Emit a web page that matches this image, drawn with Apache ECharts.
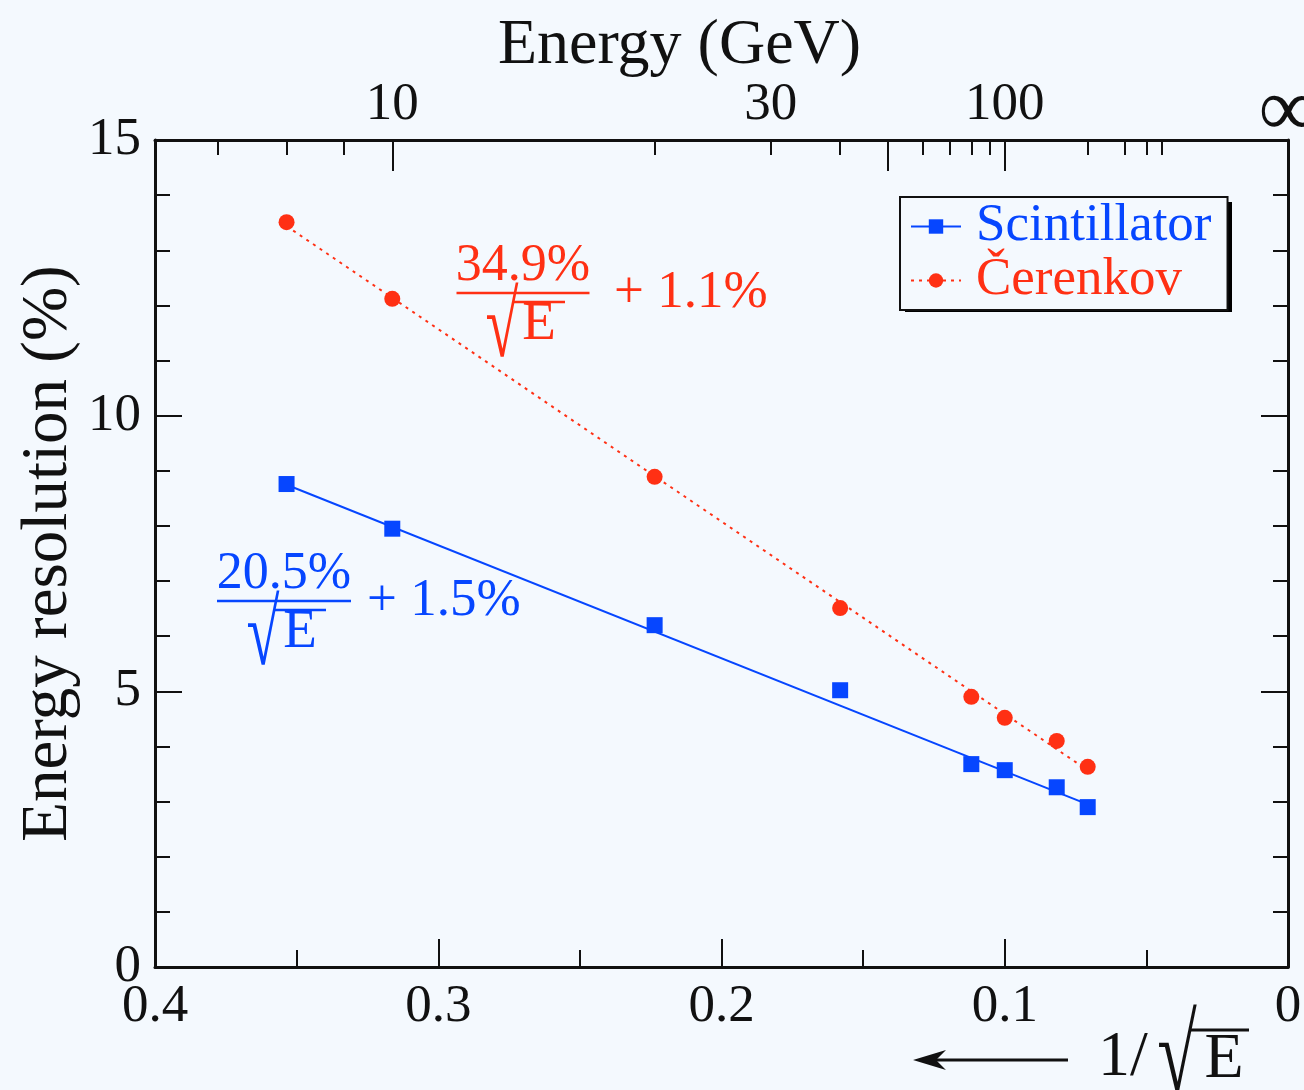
<!DOCTYPE html>
<html>
<head>
<meta charset="utf-8">
<script src="https://cdn.jsdelivr.net/npm/echarts@6/dist/echarts.min.js"></script>
<style>
  html, body { margin: 0; padding: 0; background: #f4f9fe; }
  #chart { width: 1304px; height: 1090px; }
</style>
</head>
<body>
<div id="chart"></div>
<script>
// Beam energies (GeV) of the measurements
const energies = [8, 10, 20, 40, 80, 100, 150, 200];
// Energy resolution (%) for the two readouts
const scintRes = [8.76, 7.95, 6.20, 5.02, 3.68, 3.57, 3.26, 2.90];
const cerenRes = [13.51, 12.12, 8.89, 6.51, 4.90, 4.52, 4.10, 3.63];
// Fit parameters: [stochastic term %, constant term %]
const scintFit = [20.5, 1.5];
const cerenFit = [34.9, 1.1];
// Energy scale (GeV) drawn along the top edge
const topLabelEnergies = [10, 30, 100, Infinity];
const topMajorEnergies = [10, 50, 100];
const topMinorEnergies = [7, 8, 9, 20, 30, 40, 60, 70, 80, 90, 200, 300, 400, 500];

const BLUE = '#0646ff';
const RED = '#ff3014';
const INK = '#111';
const BG = '#f4f9fe';
const SERIF = 'Liberation Serif';

const invSqrt = E => (E === Infinity ? 0 : 1 / Math.sqrt(E));

const scintPoints = energies.map((E, i) => [invSqrt(E), scintRes[i]]);
const cerenPoints = energies.map((E, i) => [invSqrt(E), cerenRes[i]]);

// straight fit line across the measured range
function fitLine(fit) {
  const xs = [invSqrt(energies[0]), invSqrt(energies[energies.length - 1])];
  return xs.map(x => [x, fit[0] * x + fit[1]]);
}

const chart = echarts.init(document.getElementById('chart'), null, { renderer: 'canvas' });

const mkAxisLine = () => ({ show: true, onZero: false, lineStyle: { color: INK, width: 3 } });
const tickStyle = () => ({ color: INK, width: 2 });

// "a% / sqrt(E) + b%" label; cx = centre of the fraction bar, barY = its height
function fracLabel(num, plus, color, cx, barY, barW, plusX) {
  const half = barW / 2;
  const font = px => px + 'px "' + SERIF + '"';
  return [
    { type: 'text', x: cx, y: barY - 27,
      style: { text: num, align: 'center', verticalAlign: 'middle', font: font(52), fill: color } },
    { type: 'line', shape: { x1: cx - half, y1: barY, x2: cx + half, y2: barY },
      style: { stroke: color, lineWidth: 2.5 } },
    { type: 'text', x: cx - 21, y: barY + 39, scaleY: 1.55,
      style: { text: '√', align: 'center', verticalAlign: 'middle', font: font(60), fill: color } },
    { type: 'line', shape: { x1: cx - 10, y1: barY + 9, x2: cx + 42, y2: barY + 9 },
      style: { stroke: color, lineWidth: 2.5 } },
    { type: 'text', x: cx + 16, y: barY + 32,
      style: { text: 'E', align: 'center', verticalAlign: 'middle', font: font(55), fill: color } },
    { type: 'text', x: plusX, y: barY,
      style: { text: plus, align: 'left', verticalAlign: 'middle', font: font(53), fill: color } }
  ];
}

const option = {
  backgroundColor: BG,
  animation: false,
  grid: { left: 155, right: 16, top: 140, bottom: 123, containLabel: false, outerBoundsMode: 'none' },
  legend: {
    orient: 'vertical',
    left: 900, top: 197,
    itemWidth: 50, itemHeight: 18, itemGap: 1,
    padding: [3, 16, 3, 10],
    selectedMode: false,
    backgroundColor: BG,
    borderColor: INK, borderWidth: 2,
    textStyle: { fontFamily: SERIF, fontSize: 53, lineHeight: 53, padding: [0, 0, 0, 10] },
    data: [
      { name: 'Scintillator', textStyle: { color: BLUE, fontFamily: SERIF, fontSize: 53 } },
      { name: 'Čerenkov', textStyle: { color: RED, fontFamily: SERIF, fontSize: 53 } }
    ],
    z: 10
  },
  xAxis: [
    {
      type: 'value', position: 'bottom', min: 0, max: 0.4, interval: 0.1, inverse: true,
      axisLine: mkAxisLine(),
      axisTick: { inside: true, length: 28, lineStyle: tickStyle() },
      minorTick: { show: true, splitNumber: 2, length: 17, lineStyle: tickStyle() },
      splitLine: { show: false }, minorSplitLine: { show: false },
      axisLabel: { fontFamily: SERIF, fontSize: 53, color: INK, margin: 14,
        formatter: v => (Math.abs(v) < 1e-9 ? '0' : v.toFixed(1)) }
    },
    {
      type: 'value', position: 'top', min: 0, max: 0.4, inverse: true,
      name: 'Energy (GeV)', nameLocation: 'middle', nameGap: 62, nameMoveOverlap: false,
      nameTextStyle: { fontFamily: SERIF, fontSize: 64, color: INK, padding: [0, 84, 0, 0] },
      axisLine: mkAxisLine(),
      axisTick: { show: true, inside: true, length: 31, lineStyle: tickStyle(),
        customValues: topMajorEnergies.map(invSqrt) },
      splitLine: { show: false },
      axisLabel: { fontFamily: SERIF, fontSize: 53, color: INK, margin: 8,
        customValues: topLabelEnergies.map(invSqrt),
        formatter: v => (v === 0 ? '{inf|∞}' : String(Math.round(1 / (v * v)))),
        rich: { inf: { fontFamily: SERIF, fontSize: 82, lineHeight: 38, color: INK } } }
    },
    {
      type: 'value', position: 'top', min: 0, max: 0.4, inverse: true,
      axisLine: { show: false, onZero: false },
      axisTick: { show: true, inside: true, length: 15, lineStyle: tickStyle(),
        customValues: topMinorEnergies.map(invSqrt) },
      splitLine: { show: false },
      axisLabel: { show: false }
    }
  ],
  yAxis: [
    {
      type: 'value', position: 'left', min: 0, max: 15, interval: 5,
      name: 'Energy resolution (%)', nameLocation: 'middle', nameRotate: 90, nameGap: 74,
      nameMoveOverlap: false,
      nameTextStyle: { fontFamily: SERIF, fontSize: 65, color: INK },
      axisLine: mkAxisLine(),
      axisTick: { inside: true, length: 27, lineStyle: tickStyle() },
      minorTick: { show: true, splitNumber: 5, length: 15, lineStyle: tickStyle() },
      splitLine: { show: false }, minorSplitLine: { show: false },
      axisLabel: { fontFamily: SERIF, fontSize: 53, color: INK, margin: 14 }
    },
    {
      type: 'value', position: 'right', min: 0, max: 15, interval: 5,
      axisLine: mkAxisLine(),
      axisTick: { inside: true, length: 27, lineStyle: tickStyle() },
      minorTick: { show: true, splitNumber: 5, length: 15, lineStyle: tickStyle() },
      splitLine: { show: false }, minorSplitLine: { show: false },
      axisLabel: { show: false }
    }
  ],
  series: [
    {
      name: 'Scintillator', type: 'line', data: fitLine(scintFit),
      symbol: 'rect', showSymbol: false, silent: true,
      lineStyle: { color: BLUE, width: 2 }, itemStyle: { color: BLUE }
    },
    {
      name: 'Čerenkov', type: 'line', data: fitLine(cerenFit),
      symbol: 'circle', showSymbol: false, silent: true,
      lineStyle: { color: RED, width: 2, type: [3, 5] }, itemStyle: { color: RED }
    },
    {
      name: 'Scintillator', type: 'scatter', data: scintPoints,
      symbol: 'rect', symbolSize: 16, itemStyle: { color: BLUE, opacity: 1 }, z: 3
    },
    {
      name: 'Čerenkov', type: 'scatter', data: cerenPoints,
      symbol: 'circle', symbolSize: 16, itemStyle: { color: RED, opacity: 1 }, z: 3
    }
  ],
  graphic: [
    // hard drop shadow under the legend box
    { type: 'rect', z: 1, shape: { x: 905, y: 202, width: 327, height: 110 }, style: { fill: '#000' } },
    ...fracLabel('34.9%', '+ 1.1%', RED, 523, 293, 133, 614),
    ...fracLabel('20.5%', '+ 1.5%', BLUE, 284, 601, 134, 367),
    // horizontal-axis caption with arrow pointing toward low energy
    { type: 'line', shape: { x1: 930, y1: 1060, x2: 1068, y2: 1060 }, style: { stroke: INK, lineWidth: 3 } },
    { type: 'polygon', shape: { points: [[913, 1060], [946, 1050], [936, 1060], [946, 1070]] },
      style: { fill: INK } },
    { type: 'text', x: 1098, y: 1058,
      style: { text: '1/', align: 'left', verticalAlign: 'middle', font: '64px "Liberation Serif"', fill: INK } },
    { type: 'text', x: 1177, y: 1062, scaleY: 1.5,
      style: { text: '√', align: 'center', verticalAlign: 'middle', font: '72px "Liberation Serif"', fill: INK } },
    { type: 'line', shape: { x1: 1190, y1: 1030, x2: 1249, y2: 1030 }, style: { stroke: INK, lineWidth: 3 } },
    { type: 'text', x: 1224, y: 1060,
      style: { text: 'E', align: 'center', verticalAlign: 'middle', font: '64px "Liberation Serif"', fill: INK } }
  ]
};

chart.setOption(option);
</script>
</body>
</html>
